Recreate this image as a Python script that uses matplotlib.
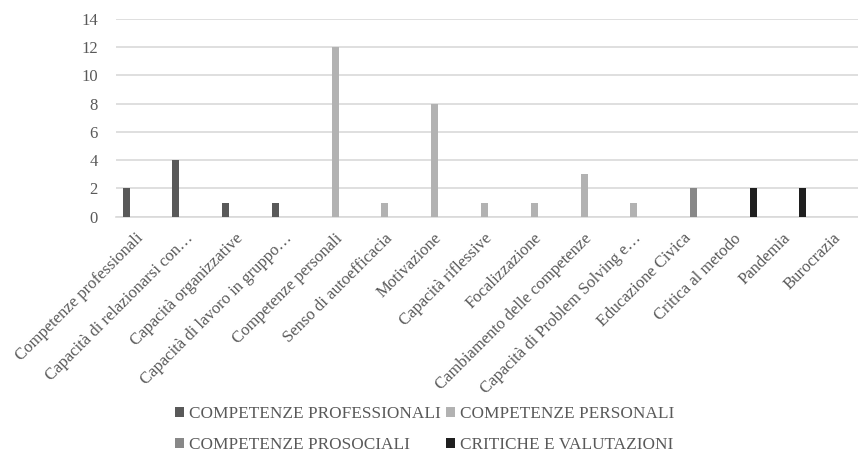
import numpy as np
import matplotlib
matplotlib.use('Agg')
import matplotlib.pyplot as plt

categories = ['Competenze professionali', 'Capacità di relazionarsi con…',
              'Capacità organizzative', 'Capacità di lavoro in gruppo…',
              'Competenze personali', 'Senso di autoefficacia', 'Motivazione',
              'Capacità riflessive', 'Focalizzazione',
              'Cambiamento delle competenze', 'Capacità di Problem Solving e…',
              'Educazione Civica', 'Critica al metodo', 'Pandemia', 'Burocrazia']
series_names = ['COMPETENZE PROFESSIONALI', 'COMPETENZE PERSONALI',
                'COMPETENZE PROSOCIALI', 'CRITICHE E VALUTAZIONI']
prof = [2, 4, 1, 1, 0, 0, 0, 0, 0, 0, 0, 0, 0, 0, 0]
pers = [0, 0, 0, 0, 12, 1, 8, 1, 1, 3, 1, 0, 0, 0, 0]
prosoc = [0, 0, 0, 0, 0, 0, 0, 0, 0, 0, 0, 2, 0, 0, 0]
crit = [0, 0, 0, 0, 0, 0, 0, 0, 0, 0, 0, 0, 2, 2, 0]
colors = ['#595959', '#b2b2b2', '#888888', '#1f1f1f']

plt.rcParams['font.family'] = ['Liberation Serif', 'DejaVu Serif']
txt = '#595959'

fig = plt.figure(figsize=(8.58, 4.61), dpi=100)
ax = fig.add_axes([0.135, 0.530, 0.865, 0.429])

x = np.arange(len(categories))
step = 0.195
width = 0.14
bars = []
for i, (vals, name) in enumerate(zip([prof, pers, prosoc, crit], series_names)):
    b = ax.bar(x + (i - 1.5) * step, vals, width, color=colors[i], label=name, zorder=3)
    bars.append(b)

ax.set_ylim(0, 14)
ax.set_yticks(range(0, 15, 2))
ax.set_xlim(-0.5, 14.4)
ax.set_xticks(x)
ax.set_xticklabels(categories, rotation=45, ha='right', va='center', rotation_mode='anchor')
ax.grid(axis='y', color='#d9d9d9', linewidth=1.2, zorder=0)
ax.tick_params(length=0, labelsize=12, colors=txt)
ax.tick_params(axis='x', pad=14)
ax.tick_params(axis='y', pad=13)
for s in ['top', 'right', 'left']:
    ax.spines[s].set_visible(False)
ax.spines['bottom'].set_color('#d9d9d9')
ax.spines['bottom'].set_linewidth(1.2)

order = [0, 2, 1, 3]
leg = fig.legend([bars[k] for k in order], [series_names[k] for k in order],
                 ncol=2, loc='center', bbox_to_anchor=(0.495, 0.068), frameon=False,
                 fontsize=12.4, handlelength=0.5, handleheight=0.5, handletextpad=0.3,
                 columnspacing=0.3, labelspacing=0.9)
for t in leg.get_texts():
    t.set_color(txt)

fig.savefig('out.png', dpi=100)
